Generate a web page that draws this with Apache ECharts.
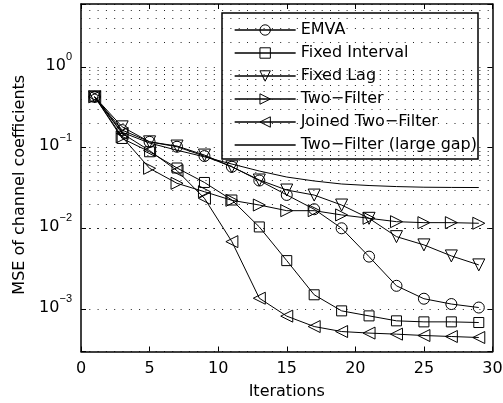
<!DOCTYPE html>
<html><head><meta charset="utf-8">
<script src="https://cdn.jsdelivr.net/npm/echarts@6/dist/echarts.min.js"></script>
<style>html,body{margin:0;padding:0;background:#fff}#c{width:503px;height:403px}</style>
</head><body><div id="c"></div>
<script>
const iterations = [1,3,5,7,9,11,13,15,17,19,21,23,25,27,29];
const emva          = [0.426,0.165,0.118,0.1026,0.0787,0.058,0.0392,0.026,0.0173,0.01005,0.00448,0.00195,0.00135,0.00116,0.00105];
const fixedInterval = [0.426,0.130,0.089,0.056,0.0371,0.0225,0.01044,0.0040,0.00151,0.000955,0.000828,0.000719,0.000698,0.000698,0.000685];
const fixedLag      = [0.426,0.181,0.118,0.1047,0.081,0.058,0.0398,0.0299,0.0259,0.0195,0.01335,0.00792,0.00626,0.00457,0.00354];
const twoFilter     = [0.426,0.136,0.0555,0.0362,0.0285,0.0223,0.0195,0.0166,0.0166,0.0147,0.01336,0.01213,0.0118,0.0118,0.0116];
const joinedTwoFilter = [0.426,0.15,0.092,0.052,0.0236,0.00687,0.00137,0.000822,0.000611,0.00053,0.000507,0.000492,0.000473,0.00046,0.000447];
const twoFilterLargeGap = [0.426,0.155,0.114,0.093,0.077,0.0627,0.0514,0.0433,0.0387,0.0355,0.034,0.033,0.0324,0.0322,0.0321];
const seriesNames = ['EMVA','Fixed Interval','Fixed Lag','Two\u2212Filter','Joined Two\u2212Filter','Two\u2212Filter (large gap)'];
const xTicks = [0,5,10,15,20,25,30];
const yMinorGrid = [4e-4,5e-4,6e-4,7e-4,8e-4,9e-4,2e-3,3e-3,4e-3,5e-3,6e-3,7e-3,8e-3,9e-3,2e-2,3e-2,4e-2,5e-2,6e-2,7e-2,8e-2,9e-2,0.2,0.3,0.4,0.5,0.6,0.7,0.8,0.9,2,3,4,5];
const xLabel = 'Iterations';
const yLabel = 'MSE of channel coefficients';

const FONT = 'DejaVu Sans';
const symbols = ['circle','rect','path://M0,0 L10,0 L5,10 Z','path://M0,0 L10,5 L0,10 Z','path://M10,0 L0,5 L10,10 Z','none'];
const sizes = [11,10,12,12,12,0];
const values = [emva,fixedInterval,fixedLag,twoFilter,joinedTwoFilter,twoFilterLargeGap];
const pairs = v => iterations.map((x,i)=>[x,v[i]]);
const dotted = {color:'#222', width:1, type:[1,7.3]};
const hollow = {color:'rgba(255,255,255,0)', borderColor:'#000', borderWidth:1};
const legendLine = {color:'#000', width:1.3, opacity:1, type:'solid'};

const series = values.map((v,i)=>({
  name: seriesNames[i], type:'line', data: pairs(v),
  symbol: symbols[i], symbolSize: sizes[i], showSymbol: symbols[i] !== 'none', showAllSymbol: true,
  lineStyle:{color:'#000', width:1},
  itemStyle: hollow,
  emphasis:{disabled:true}, z: 3
}));
series.push({
  type:'line', data:[], z:1, silent:true,
  markLine:{silent:true, symbol:'none', label:{show:false}, lineStyle:dotted, emphasis:{disabled:true},
    data: yMinorGrid.map(v=>({yAxis:v}))}
});

const legendData = seriesNames.map((n,i)=> symbols[i] === 'none'
  ? {name:n, lineStyle:legendLine, itemStyle:{color:'rgba(0,0,0,0)', borderColor:'rgba(0,0,0,0)', borderWidth:0, opacity:0}}
  : {name:n, lineStyle:legendLine, itemStyle:{color:'rgba(255,255,255,0)', borderColor:'#000', borderWidth:1, opacity:1}});

const fmtY = v => {
  const l = Math.log10(v), e = Math.round(l);
  if (Math.abs(l-e) > 1e-6) return '';
  return '{b|10}{s|' + (e<0 ? '\u2212' + (-e) : String(e)) + '}';
};
const axisCommon = {
  axisLine:{show:true, onZero:false, lineStyle:{color:'#000', width:1.5}},
  axisTick:{show:true, inside:true, length:5, lineStyle:{color:'#000', width:1}},
};
const chart = echarts.init(document.getElementById('c'), null, {renderer:'canvas'});
chart.setOption({
  animation:false,
  backgroundColor:'#fff',
  grid:{left:81, right:10.5, top:4, bottom:51.5, show:false, outerBoundsMode:'none', containLabel:false},
  legend:{
    data: legendData, orient:'vertical', left:222, top:13,
    itemWidth:61, itemHeight:13, itemGap:7, padding:[9,1,6,12],
    backgroundColor:'#fff', borderColor:'#000', borderWidth:1.5, borderRadius:0,
    selectedMode:false,
    itemStyle:{borderWidth:1, borderColor:'#000'}, lineStyle:legendLine,
    textStyle:{fontFamily:FONT, fontSize:16, color:'#000'}
  },
  xAxis:[
    Object.assign({type:'value', min:0, max:30, interval:5, position:'bottom',
      axisLabel:{fontFamily:FONT, fontSize:16, color:'#000', margin:9},
      splitLine:{show:false},
      name:xLabel, nameLocation:'middle', nameGap:32,
      nameTextStyle:{fontFamily:FONT, fontSize:16, color:'#000'}}, axisCommon),
    Object.assign({type:'value', min:0, max:30, interval:5, position:'top',
      axisLabel:{show:false}, splitLine:{show:false}}, axisCommon)
  ],
  yAxis:[
    Object.assign({type:'log', logBase:10, min:3e-4, max:6, position:'left',
      axisLabel:{formatter:fmtY, margin:9, padding:[0,0,5,0],
        rich:{
          b:{fontFamily:FONT, fontSize:16, color:'#000', lineHeight:18, verticalAlign:'bottom'},
          s:{fontFamily:'Liberation Sans', fontSize:11, color:'#000', lineHeight:12, verticalAlign:'bottom', padding:[0,0,11,0]}
        }},
      splitLine:{show:true, lineStyle:dotted},
      name:yLabel, nameLocation:'middle', nameGap:43, nameRotate:90,
      nameTextStyle:{fontFamily:FONT, fontSize:16, color:'#000', padding:[0,14,0,0]}}, axisCommon),
    Object.assign({type:'log', logBase:10, min:3e-4, max:6, position:'right',
      axisLabel:{show:false}, splitLine:{show:false}}, axisCommon)
  ],
  series: series
});
</script></body></html>
